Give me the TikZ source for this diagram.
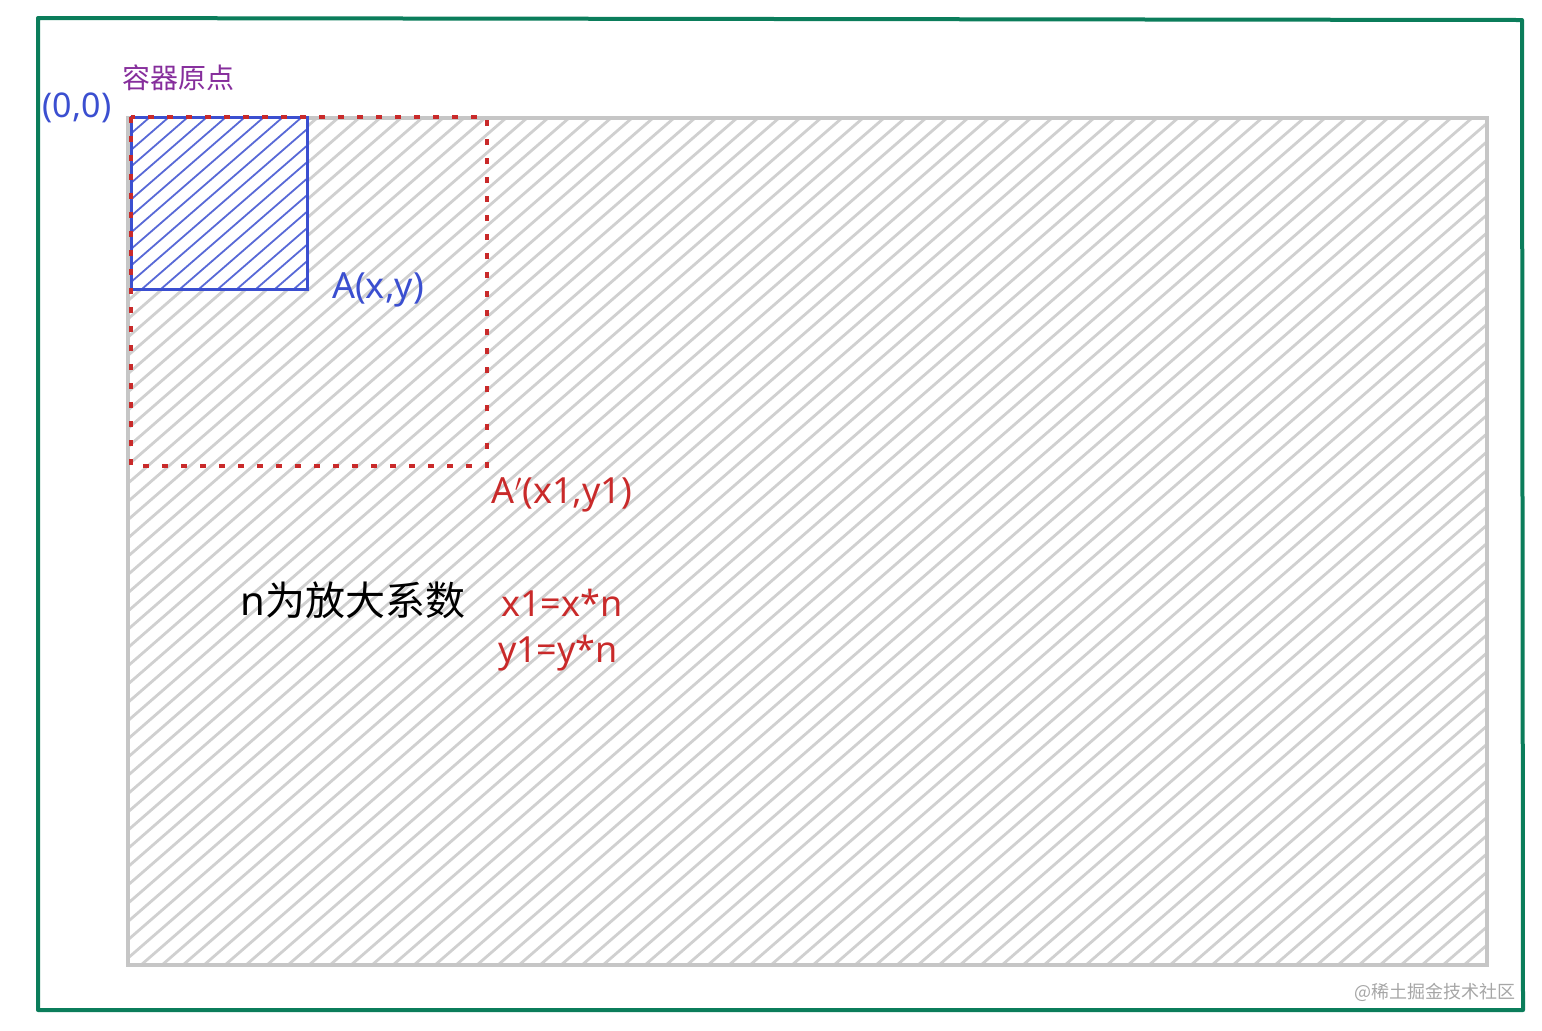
\documentclass[tikz,border=0pt]{standalone}
\usepackage{fontspec}
\usepackage{xcolor}
\setmainfont{Noto Sans}
\newfontfamily\cjk{Noto Sans CJK SC}
\definecolor{framegreen}{HTML}{0B7D5B}
\definecolor{boxblue}{HTML}{3B4FD0}
\definecolor{scalered}{HTML}{C92A2A}
\definecolor{originpurple}{HTML}{862E9C}
\definecolor{hatchgray}{HTML}{D0D0D0}
\tikzset{
  hatch/.style={hatchgray, line width=1.4pt},
  bluehatch/.style={boxblue!85, line width=0.9pt},
  lbl/.style={inner sep=0pt, anchor=center},
}

\begin{document}
\begin{tikzpicture}[x=0.5pt,y=-0.5pt]
\useasboundingbox (0,0) rectangle (1542,1030);
% outer frame
\draw[framegreen, line width=2pt, line join=round] (38,18) -- (1522,20) -- (1523,1010) -- (38,1010) -- cycle;
% container
\begin{scope}
 \clip (128,118) rectangle (1487,965);
 \foreach \x in {-846,-825,...,1500} {
  \draw[hatch] (\x,965) -- ++(974,-847);
 }
\end{scope}
\draw[hatchgray!95!black, line width=2pt] (128,118) rectangle (1487,965);
% element A
\fill[white] (131,117) rectangle (307,289);
\begin{scope}
 \clip (131,117) rectangle (307,289);
 \foreach \x in {-67,-48,...,320} {
  \draw[bluehatch] (\x,289) -- ++(198,-172);
 }
\end{scope}
\draw[boxblue, line width=1.5pt] (131,117) rectangle (307,289);
% scaled element A'
\draw[scalered, line width=2pt, dash pattern=on 3pt off 6.5pt] (131,117) rectangle (487,466);
% labels
\node[lbl, originpurple, font=\cjk\fontsize{14}{16}\selectfont] (origin) at (178,78) {容器原点};
\node[lbl, boxblue, font=\fontsize{17}{19}\selectfont] (zero) at (77,108) {(0,0)};
\node[lbl, boxblue, font=\fontsize{18}{20}\selectfont] (pa) at (378,290) {A(x,y)};
\node[lbl, scalered, font=\fontsize{18}{20}\selectfont] (pb) at (562,495) {A$'$(x1,y1)};
\node[lbl, font=\fontsize{20}{22}\selectfont] (factor) at (353,600) {n{\cjk 为放大系数}};
\node[lbl, scalered, font=\fontsize{18}{20}\selectfont] (fx) at (562,603) {x1=x*n};
\node[lbl, scalered, font=\fontsize{18}{20}\selectfont] (fy) at (558,653) {y1=y*n};
\node[lbl, gray!70, font=\cjk\fontsize{9}{11}\selectfont] (mark) at (1435,992) {@稀土掘金技术社区};
\end{tikzpicture}
\end{document}
